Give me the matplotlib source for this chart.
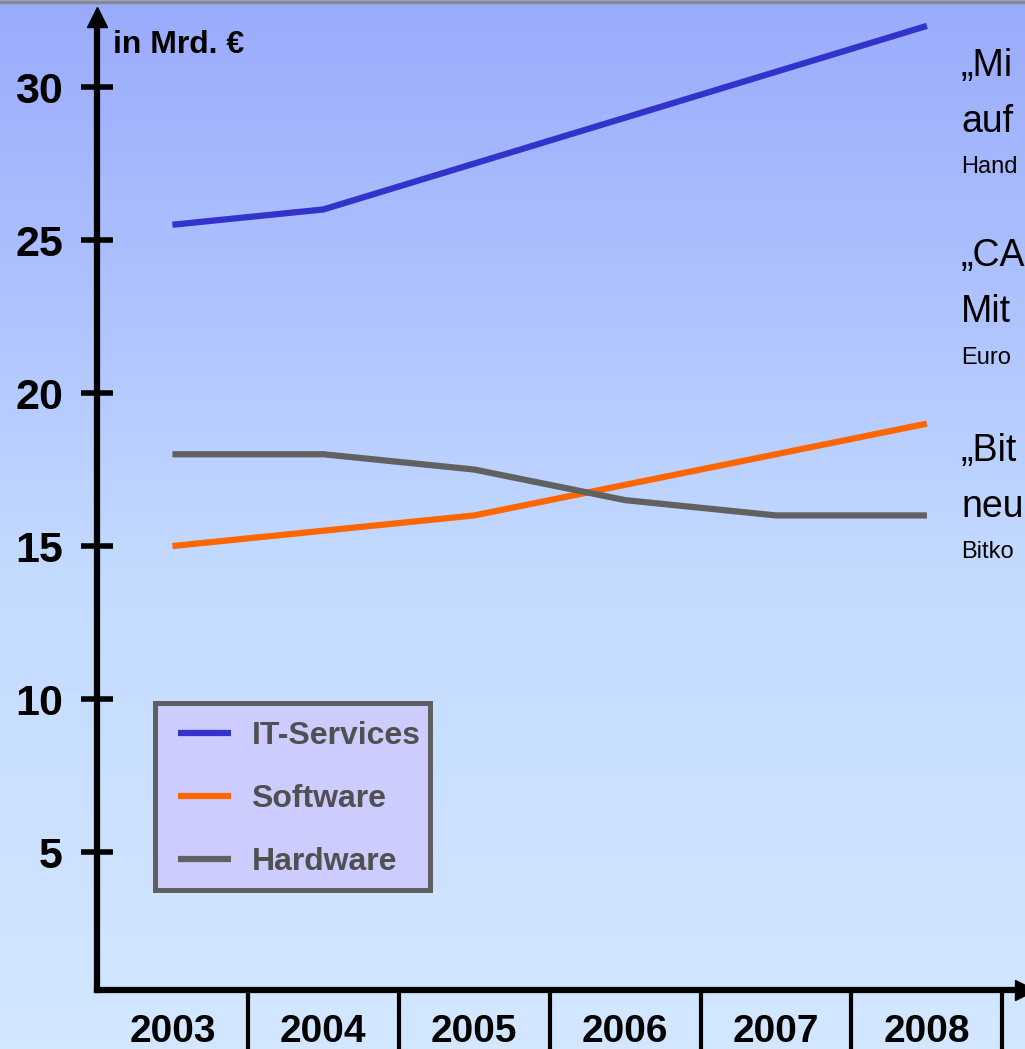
import numpy as np
import matplotlib
matplotlib.use('Agg')
import matplotlib.pyplot as plt
from matplotlib.colors import LinearSegmentedColormap
from matplotlib.patches import Rectangle

# data
years = ['2003', '2004', '2005', '2006', '2007', '2008']
it_services = [25.5, 26.0, 27.5, 29.0, 30.5, 32.0]
software = [15.0, 15.5, 16.0, 17.0, 18.0, 19.0]
hardware = [18.0, 18.0, 17.5, 16.5, 16.0, 16.0]
y_ticks = [5, 10, 15, 20, 25, 30]

W, H = 1025, 1049
fig = plt.figure(figsize=(W / 100, H / 100), dpi=100)

# background gradient
bg = fig.add_axes([0, 0, 1, 1])
cmap = LinearSegmentedColormap.from_list('bg', [(0, '#9aabfc'), (0.3, '#afc4ff'),
                                              (0.55, '#c4dbff'), (1, '#d3e7ff')])
bg.imshow(np.linspace(0, 1, 256).reshape(-1, 1), aspect='auto', cmap=cmap,
          extent=[0, 1, 1, 0])
bg.set_xlim(0, 1)
bg.set_ylim(1, 0)
bg.axhline(0.0015, color='#8a8a8a', lw=2.5)
bg.axis('off')

# legend box (drawn separately so its size matches the slide)
bg.add_patch(Rectangle((155 / W, 703 / H), 275 / W, 187 / H, facecolor='#ccccff',
                       edgecolor='#5f5f5f', lw=3.6, zorder=2))

# main axes
left, right, top, bottom = 97, 1025, 17, 990
ax = fig.add_axes([left / W, 1 - bottom / H, (right - left) / W, (bottom - top) / H])
ax.patch.set_alpha(0)
x = np.arange(len(years))
ax.plot(x, it_services, color='#3333cc', lw=4.5, solid_capstyle='butt', label='IT-Services')
ax.plot(x, software, color='#ff6600', lw=4.5, solid_capstyle='butt', label='Software')
ax.plot(x, hardware, color='#616161', lw=4.5, solid_capstyle='butt', label='Hardware')

ax.set_xlim(-0.5, 5.65)
ax.set_ylim(0.49, 32.29)
for s in ['top', 'right']:
    ax.spines[s].set_visible(False)
for s in ['left', 'bottom']:
    ax.spines[s].set_linewidth(4.5)
    ax.spines[s].set_color('black')

ax.set_yticks(y_ticks)
ax.set_yticklabels([str(t) for t in y_ticks], fontsize=31, fontweight='bold',
                   family=['Liberation Sans', 'DejaVu Sans'])
ax.tick_params(axis='y', direction='inout', length=23, width=4, pad=13)

ax.set_xticks(x)
ax.set_xticklabels(years, fontsize=28, fontweight='bold',
                   family=['Liberation Sans', 'DejaVu Sans'])
ax.tick_params(axis='x', which='major', length=0, pad=17)
ax.set_xticks(x + 0.5, minor=True)
ax.tick_params(axis='x', which='minor', direction='out', length=45, width=3)

# arrow heads
ax.plot(0, 1, marker='^', color='black', ms=14, transform=ax.transAxes, clip_on=False)
ax.plot(1, 0, marker='>', color='black', ms=14, transform=ax.transAxes, clip_on=False)

fig.text(113 / W, 1 - 45 / H, 'in Mrd. €', fontsize=23, fontweight='bold',
         va='center', ha='left', family=['Liberation Sans', 'DejaVu Sans'])

leg = ax.legend(loc='upper left', bbox_to_anchor=(178 / W, 1 - 721 / H),
                bbox_transform=fig.transFigure, frameon=False,
                handlelength=1.65, handletextpad=0.65,
                labelspacing=1.04, borderpad=0, borderaxespad=0,
                prop={'family': ['Liberation Sans', 'DejaVu Sans'],
                      'weight': 'bold', 'size': 23})
for t in leg.get_texts():
    t.set_color('#505050')

# quotes on the right, only the part visible at the slide edge
quotes = [('„Mi', 66, 27), ('auf', 122, 27), ('Hand', 167, 17),
          ('„CA', 256, 27), ('Mit', 312, 27), ('Euro', 358, 17),
          ('„Bit', 451, 27), ('neu', 507, 27), ('Bitko', 552, 17)]
for txt, yp, fs in quotes:
    fig.text(961 / W, 1 - yp / H, txt, fontsize=fs, va='center', ha='left',
             family=['Liberation Sans', 'DejaVu Sans'])

fig.savefig('out.png', dpi=100)
